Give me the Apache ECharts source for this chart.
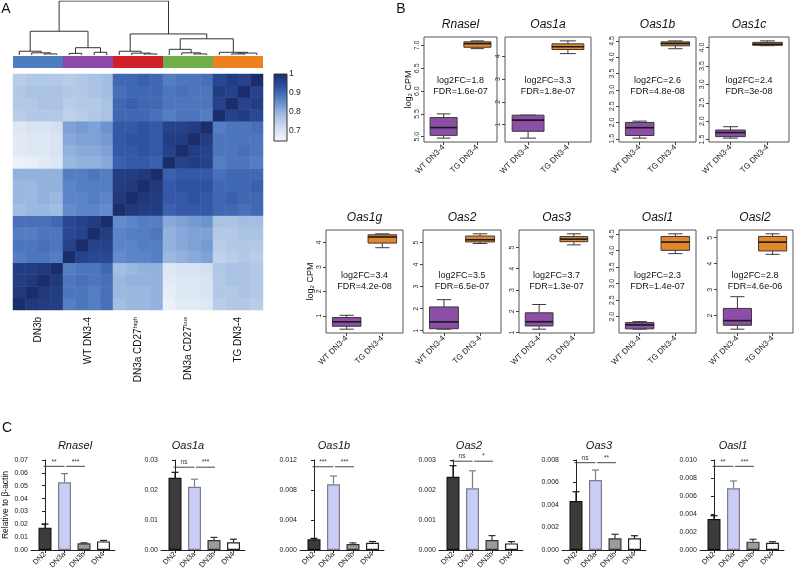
<!DOCTYPE html>
<html><head><meta charset="utf-8">
<script src="https://cdn.jsdelivr.net/npm/echarts@6/dist/echarts.min.js"></script>
<style>html,body{margin:0;padding:0;background:#fff}#c{width:794px;height:573px}</style>
</head><body><div id="c"></div>
<script>
// ================= DATA =================
// ---- Panel A: sample correlation heatmap ----
const heatGroupNames = ['DN3b', 'WT DN3-4', 'DN3a CD27', 'DN3a CD27', 'TG DN3-4'];
const heatGroupSup = ['', '', 'high', 'low', ''];
// rows/cols in sample order: DN3b x4, WT x4, CD27high x4, CD27low x4, TG x4
const heatRows = [
 [1.00,.98,.97,.97, .87,.88,.87,.89, .78,.79,.79,.80, .66,.68,.68,.69, .75,.76,.76,.75],
 [.98,1.00,.98,.97, .88,.88,.87,.89, .79,.79,.79,.80, .67,.69,.69,.70, .76,.76,.77,.76],
 [.97,.98,1.00,.98, .88,.89,.88,.89, .79,.80,.80,.80, .68,.69,.69,.70, .76,.77,.77,.76],
 [.97,.97,.98,1.00, .87,.88,.88,.90, .78,.79,.80,.80, .69,.70,.70,.71, .76,.77,.77,.76],
 [.87,.88,.88,.87, 1.00,.96,.95,.95, .85,.86,.86,.87, .79,.80,.81,.82, .74,.75,.76,.75],
 [.88,.88,.89,.88, .96,1.00,.96,.96, .86,.86,.87,.87, .80,.81,.82,.83, .75,.76,.76,.76],
 [.87,.87,.88,.88, .95,.96,1.00,.97, .86,.87,.87,.88, .80,.81,.82,.82, .76,.76,.77,.77],
 [.89,.89,.89,.90, .95,.96,.97,1.00, .85,.86,.87,.87, .81,.82,.83,.84, .77,.77,.78,.78],
 [.78,.79,.79,.78, .85,.86,.86,.85, 1.00,.98,.97,.97, .91,.92,.92,.92, .90,.90,.89,.90],
 [.79,.79,.80,.79, .86,.86,.87,.86, .98,1.00,.98,.97, .92,.92,.93,.92, .90,.91,.90,.90],
 [.79,.79,.80,.80, .86,.87,.87,.87, .97,.98,1.00,.98, .92,.93,.93,.93, .90,.90,.90,.91],
 [.80,.80,.80,.80, .87,.87,.88,.87, .97,.97,.98,1.00, .91,.92,.92,.92, .89,.90,.90,.90],
 [.66,.67,.68,.69, .79,.80,.80,.81, .91,.92,.92,.91, 1.00,.96,.97,.96, .87,.88,.88,.87],
 [.68,.69,.69,.70, .80,.81,.81,.82, .92,.92,.93,.92, .96,1.00,.97,.96, .88,.88,.89,.88],
 [.68,.69,.69,.70, .81,.82,.82,.83, .92,.93,.93,.92, .97,.97,1.00,.97, .88,.88,.88,.88],
 [.69,.70,.70,.71, .82,.83,.82,.84, .92,.92,.93,.92, .96,.96,.97,1.00, .87,.88,.88,.89],
 [.75,.76,.76,.76, .74,.75,.76,.77, .90,.90,.90,.89, .87,.88,.88,.87, 1.00,.96,.97,.95],
 [.76,.76,.77,.77, .75,.76,.76,.77, .90,.91,.90,.90, .88,.88,.88,.88, .96,1.00,.96,.97],
 [.76,.77,.77,.77, .76,.76,.77,.78, .89,.90,.90,.90, .88,.89,.88,.88, .97,.96,1.00,.96],
 [.75,.76,.76,.76, .75,.76,.77,.78, .90,.90,.91,.90, .87,.88,.88,.89, .95,.97,.96,1.00]
];
const colorbarRange = [0.643, 1.0];
const colorbarTicks = [0.7, 0.8, 0.9, 1];
// dendrogram merges: [leftX, leftHeight, rightX, rightHeight, mergeHeight] (x in sample units)
const dendroMerges = [
 [2.5,0,3.5,0,0.02],[1.5,0,3.0,0.02,0.04],[0.5,0,2.25,0.04,0.07],
 [4.5,0,5.5,0,0.03],[6.5,0,7.5,0,0.05],[5.0,0.03,7.0,0.05,0.135],
 [1.375,0.07,6.0,0.135,0.44],
 [10.5,0,11.5,0,0.02],[9.5,0,11.0,0.02,0.035],[8.5,0,10.25,0.035,0.07],
 [14.5,0,15.5,0,0.02],[13.5,0,15.0,0.02,0.04],[12.5,0,14.25,0.04,0.105],
 [17.5,0,18.5,0,0.02],[18.0,0.02,19.5,0,0.035],[16.5,0,18.75,0.035,0.05],
 [13.375,0.105,17.625,0.05,0.30],
 [9.375,0.07,15.5,0.30,0.39],
 [3.69,0.44,12.44,0.39,1.0]
];

// ---- Panel B: boxplots (log2 CPM) ----
const boxGenes = ['Rnasel','Oas1a','Oas1b','Oas1c','Oas1g','Oas2','Oas3','Oasl1','Oasl2'];
const boxGroups = ['WT DN3-4','TG DN3-4'];
// [min, q1, median, q3, max]
const boxWT = [
 [4.97,5.03,5.20,5.42,5.50],
 [0.40,0.70,1.19,1.41,1.41],
 [1.52,1.60,1.84,2.00,2.04],
 [1.54,1.58,1.69,1.76,1.85],
 [0.45,0.57,0.75,0.93,1.02],
 [1.07,1.09,1.40,2.08,2.41],
 [1.16,1.31,1.51,1.93,2.32],
 [1.62,1.63,1.75,1.82,1.85],
 [1.48,1.63,1.81,2.28,2.73]
];
const boxTG = [
 [6.93,6.96,7.04,7.08,7.10],
 [4.12,4.30,4.42,4.55,4.68],
 [4.26,4.35,4.42,4.47,4.50],
 [4.05,4.06,4.09,4.14,4.18],
 [3.79,3.98,4.23,4.32,4.36],
 [4.96,5.03,5.13,5.30,5.40],
 [5.12,5.27,5.39,5.51,5.64],
 [3.91,4.01,4.26,4.43,4.51],
 [4.36,4.49,4.83,5.05,5.15]
];
const boxTicks = [
 [5.0,5.5,6.0,6.5,7.0],[1,2,3,4],[1.5,2.0,2.5,3.0,3.5,4.0,4.5],[1.5,2.0,2.5,3.0,3.5,4.0],
 [1,2,3,4],[1,2,3,4,5],[1,2,3,4,5],[2.0,2.5,3.0,3.5,4.0,4.5],[2,3,4,5]
];
const boxTickDecimals = [1,0,1,1,0,0,0,1,0];
const boxLog2FC = ['1.8','3.3','2.6','2.4','3.4','3.5','3.7','2.3','2.8'];
const boxFDR = ['1.6e-07','1.8e-07','4.8e-08','3e-08','4.2e-08','6.5e-07','1.3e-07','1.4e-07','4.6e-06'];

// ---- Panel C: qPCR bars ----
const qpcrGenes = ['Rnasel','Oas1a','Oas1b','Oas2','Oas3','Oasl1'];
const qpcrCats = ['DN2','DN3a','DN3b','DN4'];
const qpcrMean = [
 [0.0174,0.0526,0.0052,0.0067],
 [0.0241,0.0211,0.0033,0.0026],
 [0.00143,0.00876,0.00080,0.00097],
 [0.00244,0.00206,0.00033,0.00022],
 [0.00436,0.00622,0.00104,0.00104],
 [0.00344,0.00686,0.00093,0.00081]
];
const qpcrUpper = [
 [0.0202,0.0594,0.0056,0.0074],
 [0.0259,0.0236,0.0042,0.0036],
 [0.00155,0.00987,0.00095,0.00113],
 [0.00281,0.00264,0.00048,0.00028],
 [0.00518,0.00711,0.00140,0.00127],
 [0.00381,0.00767,0.00119,0.00092]
];
const qpcrMax = [0.07,0.03,0.012,0.003,0.008,0.010];
const qpcrInterval = [0.01,0.01,0.004,0.001,0.002,0.002];
const qpcrDecimals = [2,2,3,3,3,3];
// [fromIndex, toIndex, y, label]
const qpcrSig = [
 [[0,1,0.0651,'**'],[1,2,0.0651,'***']],
 [[0,1,0.0276,'ns'],[1,2,0.0276,'***']],
 [[0,1,0.0111,'***'],[1,2,0.0111,'***']],
 [[0,1,0.00296,'ns'],[1,2,0.00296,'*']],
 [[0,1,0.00776,'ns'],[1,2,0.00776,'**']],
 [[0,1,0.0093,'**'],[1,2,0.0093,'***']]
];

// ================= STYLE / LAYOUT =================
const FONT = '"Liberation Sans", Arial, Helvetica, sans-serif';
const heatColors = ['#f4f7fc','#d2def0','#9fbbe2','#5d87c9','#2f53a4','#1b2d6b'];
const groupColors = ['#4e7cc1','#8d48a8','#cf2127','#70ae4a','#ec8122'];
const boxFill = ['#8c4ea6','#e4862a'];
const barFill = ['#3b3b3b','#c9ccf5','#9b9b9b','#ffffff'];
const barStroke = ['#111111','#7c7c8a','#333333','#222222'];

const heatBox = {left:13, top:74, width:250, height:236};
const boxLayout = [
 {left:424, top:37, width:73, height:105},
 {left:505, top:37, width:86, height:105},
 {left:619, top:37, width:77, height:105},
 {left:709, top:37, width:80, height:105},
 {left:326, top:230, width:77, height:103},
 {left:423, top:230, width:78, height:103},
 {left:519, top:230, width:75, height:103},
 {left:619, top:230, width:77, height:103},
 {left:717, top:230, width:76, height:103}
];
const boxTextY = [86,86,86,86,281,281,281,281,281];
const boxTitleY = [25,25,25,25,218,218,218,218,218];
const qAxisX = [31,161,300,439,562,700];
const qTitleX = [75,188,334,469,599,733];

// ================= BUILD =================
const opt = {animation:false, textStyle:{fontFamily:FONT}, grid:[], xAxis:[], yAxis:[], series:[], graphic:[], visualMap:[]};
function addGrid(g){ opt.grid.push(Object.assign({containLabel:false}, g)); return opt.grid.length-1; }
function addX(a){ opt.xAxis.push(a); return opt.xAxis.length-1; }
function addY(a){ opt.yAxis.push(a); return opt.yAxis.length-1; }
function txt(x, y, text, extra){
  opt.graphic.push({type:'text', x:x, y:y, silent:true, style:Object.assign({text:text, fontFamily:FONT, fontSize:10, fill:'#111',
    textAlign:'center', textVerticalAlign:'middle', align:'center', verticalAlign:'middle'}, extra||{})});
}

// ---- heatmap ----
{
  const g = addGrid(heatBox);
  const samples = heatRows.map((_, i) => 'S' + (i+1));
  const xi = addX({type:'category', gridIndex:g, data:samples, show:false});
  addX({type:'category', gridIndex:g, data:heatGroupNames.map((n,i)=>n+'|'+i), position:'bottom',
    axisLine:{show:false}, axisTick:{show:false},
    axisLabel:{rotate:90, margin:7, color:'#111', fontSize:10,
      formatter:(v)=>{ const i = +v.split('|')[1]; return '{n|'+heatGroupNames[i]+'}' + (heatGroupSup[i] ? '{s|'+heatGroupSup[i]+'}' : ''); },
      rich:{n:{fontSize:10, color:'#111', lineHeight:12}, s:{fontSize:6, color:'#111', verticalAlign:'top', lineHeight:12}}}});
  const yi = addY({type:'category', gridIndex:g, data:samples, show:false});
  const data = [];
  heatRows.forEach((row, i) => row.forEach((v, j) => data.push([j, i, v])));
  opt.series.push({type:'heatmap', xAxisIndex:xi, yAxisIndex:yi, data:data, itemStyle:{borderWidth:0}, emphasis:{disabled:true}});
  opt.visualMap.push({show:false, seriesIndex:0, dimension:2, min:colorbarRange[0], max:colorbarRange[1], inRange:{color:heatColors}});

  // group colour strip
  const g2 = addGrid({left:heatBox.left, top:56, width:heatBox.width, height:12});
  const x2 = addX({type:'category', gridIndex:g2, data:heatGroupNames.map((n,i)=>n+i), show:false});
  const y2 = addY({type:'value', gridIndex:g2, min:0, max:1, show:false});
  opt.series.push({type:'bar', xAxisIndex:x2, yAxisIndex:y2, barWidth:'100%', data:groupColors.map(()=>1),
    itemStyle:{color:(p)=>groupColors[p.dataIndex]}, silent:true});

  // dendrogram
  const g3 = addGrid({left:heatBox.left, top:1, width:heatBox.width, height:54});
  const x3 = addX({type:'value', gridIndex:g3, min:0, max:heatRows.length, show:false});
  const y3 = addY({type:'value', gridIndex:g3, min:0, max:1, show:false});
  opt.series.push({type:'lines', coordinateSystem:'cartesian2d', xAxisIndex:x3, yAxisIndex:y3, polyline:true, silent:true,
    lineStyle:{color:'#333', width:1, opacity:1},
    data:dendroMerges.map(m => ({coords:[[m[0],m[1]],[m[0],m[4]],[m[2],m[4]],[m[2],m[3]]]}))});

  // colour bar
  const g4 = addGrid({left:274, top:74, width:13, height:67});
  const x4 = addX({type:'value', gridIndex:g4, min:0, max:1, show:false});
  const y4 = addY({type:'value', gridIndex:g4, min:colorbarRange[0], max:colorbarRange[1], position:'right',
    axisLine:{show:false}, splitLine:{show:false},
    axisTick:{show:true, length:3, customValues:colorbarTicks, lineStyle:{color:'#333'}},
    axisLabel:{customValues:colorbarTicks, margin:2, fontSize:8.5, color:'#222', formatter:(v)=>String(+v.toFixed(1))}});
  const stops = heatColors.slice().reverse().map((c,i,a)=>({offset:i/(a.length-1), color:c}));
  opt.series.push({type:'custom', xAxisIndex:x4, yAxisIndex:y4, silent:true, data:[[0,1,colorbarRange[0],colorbarRange[1]]],
    renderItem:(p, api)=>{
      const a = api.coord([api.value(0), api.value(3)]), b = api.coord([api.value(1), api.value(2)]);
      return {type:'rect', shape:{x:a[0], y:a[1], width:b[0]-a[0], height:b[1]-a[1]},
        style:{fill:new echarts.graphic.LinearGradient(0,0,0,1,stops), stroke:'#333', lineWidth:1}};
    }});
}

// ---- boxplots ----
boxGenes.forEach((gene, i) => {
  const L = boxLayout[i];
  const g = addGrid({left:L.left, top:L.top, width:L.width, height:L.height, show:true, borderColor:'#555', borderWidth:1});
  const all = boxWT[i].concat(boxTG[i]);
  const lo = Math.min(...all), hi = Math.max(...all), pad = 0.04*(hi-lo);
  const xi = addX({type:'value', gridIndex:g, min:0.42, max:2.58, axisLine:{show:false}, splitLine:{show:false},
    axisTick:{show:true, length:3, customValues:[1,2], lineStyle:{color:'#444'}},
    axisLabel:{customValues:[1,2], rotate:45, margin:4, fontSize:8, color:'#222', formatter:(v)=>boxGroups[Math.round(v)-1]}});
  const yAx = {type:'value', gridIndex:g, min:lo-pad, max:hi+pad, axisLine:{show:false}, splitLine:{show:false},
    axisTick:{show:true, length:3, customValues:boxTicks[i], lineStyle:{color:'#444'}},
    axisLabel:{customValues:boxTicks[i], rotate:90, margin:3, fontSize:7, color:'#333', formatter:(v)=>(+v).toFixed(boxTickDecimals[i])}};
  if (i === 0 || i === 4) {
    Object.assign(yAx, {name:'{n|log}{s|2}{n| CPM}', nameLocation:'middle', nameRotate:90, nameGap:11,
      nameTextStyle:{rich:{n:{fontSize:9, color:'#111'}, s:{fontSize:6, color:'#111', verticalAlign:'bottom'}}}});
  }
  const yi = addY(yAx);
  opt.series.push({type:'custom', xAxisIndex:xi, yAxisIndex:yi, silent:true,
    data:[[1].concat(boxWT[i]), [2].concat(boxTG[i])],
    renderItem:(p, api)=>{
      const x = api.value(0), v = [1,2,3,4,5].map(k=>api.value(k));
      const c = (xx, yy) => api.coord([xx, yy]);
      const hw = 0.4, sw = 0.2, st = {stroke:'#3a3a3a', lineWidth:1};
      const tl = c(x-hw, v[3]), br = c(x+hw, v[1]);
      const ln = (a, b, s) => ({type:'line', shape:{x1:a[0], y1:a[1], x2:b[0], y2:b[1]}, style:s||st});
      return {type:'group', children:[
        ln(c(x, v[4]), c(x, v[3])), ln(c(x, v[1]), c(x, v[0])),
        ln(c(x-sw, v[4]), c(x+sw, v[4])), ln(c(x-sw, v[0]), c(x+sw, v[0])),
        {type:'rect', shape:{x:tl[0], y:tl[1], width:br[0]-tl[0], height:br[1]-tl[1]}, style:{fill:boxFill[p.dataIndex], stroke:'#3a3a3a', lineWidth:1}},
        ln(c(x-hw, v[2]), c(x+hw, v[2]), {stroke:'#1a1a1a', lineWidth:1.6})
      ]};
    }});
  txt(L.left + L.width/2, boxTitleY[i], gene, {fontSize:12, fontStyle:'italic'});
  txt(L.left + L.width/2, boxTextY[i], 'log2FC=' + boxLog2FC[i] + '\nFDR=' + boxFDR[i], {fontSize:9, lineHeight:11});
});

// ---- qPCR bars ----
qpcrGenes.forEach((gene, i) => {
  const g = addGrid({left:qAxisX[i], top:460, width:84, height:90});
  const unit = 19.5;
  const xi = addX({type:'value', gridIndex:g, min:-14/unit, max:(84-14)/unit, splitLine:{show:false},
    axisLine:{show:true, lineStyle:{color:'#222', width:1}},
    axisTick:{show:true, length:3, customValues:[0,1,2,3], lineStyle:{color:'#222'}},
    axisLabel:{customValues:[0,1,2,3], rotate:45, margin:3, fontSize:7.5, color:'#222', formatter:(v)=>qpcrCats[Math.round(v)]}});
  const yAx = {type:'value', gridIndex:g, min:0, max:qpcrMax[i], interval:qpcrInterval[i], splitLine:{show:false},
    axisLine:{show:true, lineStyle:{color:'#222', width:1}},
    axisTick:{show:true, length:3, lineStyle:{color:'#222'}},
    axisLabel:{margin:3, fontSize:7, color:'#222', formatter:(v)=>(+v).toFixed(qpcrDecimals[i])}};
  if (i === 0) Object.assign(yAx, {name:'Relative to β-actin', nameLocation:'middle', nameRotate:90, nameGap:20,
    nameTextStyle:{fontSize:8.5, color:'#111'}});
  const yi = addY(yAx);
  opt.series.push({type:'bar', xAxisIndex:xi, yAxisIndex:yi, barWidth:13, silent:true,
    data:qpcrMean[i].map((m,k)=>({value:[k, m], itemStyle:{color:barFill[k], borderColor:barStroke[k], borderWidth:1.2}}))});
  opt.series.push({type:'custom', xAxisIndex:xi, yAxisIndex:yi, silent:true, clip:false,
    data:qpcrMean[i].map((m,k)=>[k, m, qpcrUpper[i][k]]),
    renderItem:(p, api)=>{
      const a = api.coord([api.value(0), api.value(1)]), b = api.coord([api.value(0), api.value(2)]);
      const s = {stroke:barStroke[p.dataIndex], lineWidth:1.2};
      return {type:'group', children:[
        {type:'line', shape:{x1:a[0], y1:a[1], x2:b[0], y2:b[1]}, style:s},
        {type:'line', shape:{x1:b[0]-3.5, y1:b[1], x2:b[0]+3.5, y2:b[1]}, style:s}
      ]};
    }});
  opt.series.push({type:'custom', xAxisIndex:xi, yAxisIndex:yi, silent:true, clip:false,
    data:qpcrSig[i].map(s=>[s[0], s[1], s[2]]),
    renderItem:(p, api)=>{
      const k = p.dataIndex, lab = qpcrSig[i][k][3];
      const x1 = api.value(0) + (k===0 ? -0.08 : 0.08), x2 = api.value(1) + (k===0 ? 0 : 0.05);
      const a = api.coord([x1, api.value(2)]), b = api.coord([x2, api.value(2)]);
      return {type:'group', children:[
        {type:'line', shape:{x1:a[0], y1:a[1], x2:b[0], y2:b[1]}, style:{stroke:'#444', lineWidth:1}},
        {type:'text', x:(a[0]+b[0])/2, y:a[1]-1, style:{text:lab, fontSize:6.5, fill:'#333', fontFamily:FONT,
          textAlign:'center', textVerticalAlign:'bottom', align:'center', verticalAlign:'bottom'}}
      ]};
    }});
  txt(qTitleX[i], 446, gene, {fontSize:11, fontStyle:'italic'});
});

// panel letters
txt(6, 9, 'A', {fontSize:14});
txt(401, 9, 'B', {fontSize:14});
txt(7, 428, 'C', {fontSize:14});

const chart = echarts.init(document.getElementById('c'), null, {renderer:'canvas'});
chart.setOption(opt);
</script></body></html>
